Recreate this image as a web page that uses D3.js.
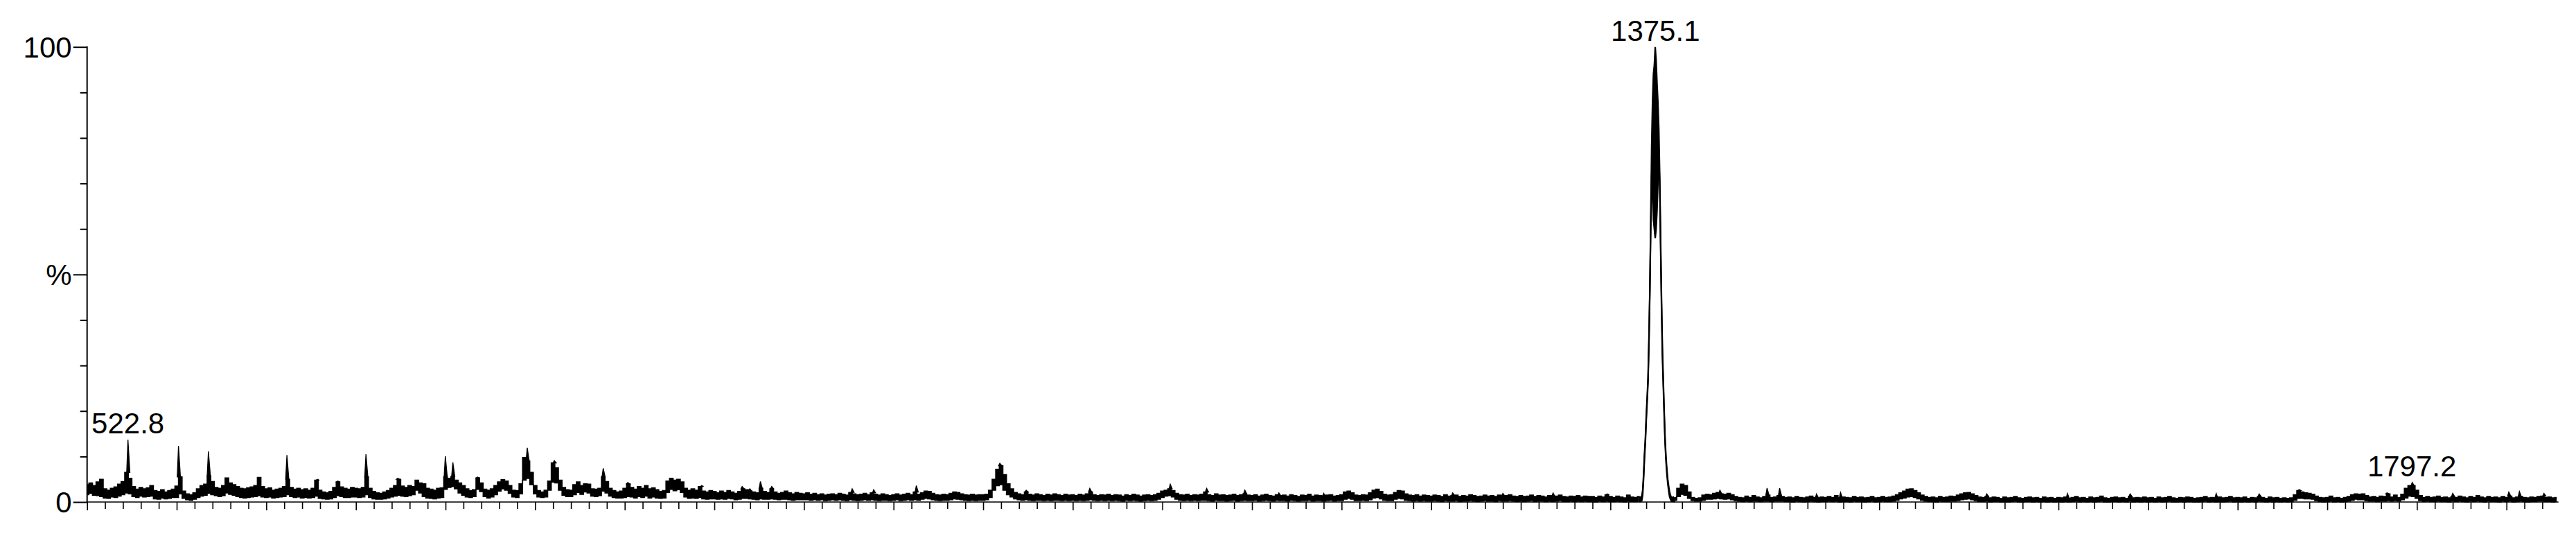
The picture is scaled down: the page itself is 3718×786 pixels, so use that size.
<!DOCTYPE html>
<html>
<head>
<meta charset="utf-8">
<script src="https://cdn.jsdelivr.net/npm/d3@7"></script>
<style>
html,body{margin:0;padding:0;background:#fff;}
text{font-family:"Liberation Sans",Arial,sans-serif;fill:#000;}
</style>
</head>
<body>
<svg id="chart" width="3718" height="786"></svg>
<script>
// ---------- DATA ----------
// m/z axis
const mzDomain = [500, 1879];
const xTickValues = d3.range(500, 1871, 10);      // minor every 10, major every 50
const yTickValues = [0, 10, 20, 30, 40, 50, 60, 70, 80, 90, 100];
const yTickLabels = {0: "0", 50: "%", 100: "100"};

// noise band of the profile, sampled every 2 m/z from 500: upper and lower edge (% intensity)
const bandStart = 500, bandStep = 2;
const bandTop = [
 3.8,4.2,3.6,4.4,5.0,2.9,2.6,3.0,3.3,3.9,4.5,6.5,5.2,3.4,2.8,3.2,2.9,3.1,3.6,2.5,2.3,2.7,2.2,2.5,2.8,
 3.5,5.5,2.4,1.8,1.6,2.0,2.9,3.6,3.9,5.8,4.5,3.2,3.0,3.6,5.3,4.2,3.8,3.4,3.0,2.9,3.1,3.3,3.6,5.4,3.4,
 2.9,3.1,2.6,2.8,3.0,3.4,5.0,3.2,2.8,3.0,2.7,2.9,2.6,3.0,4.8,2.6,2.2,2.0,2.3,3.2,4.4,3.3,3.0,2.8,3.2,
 3.0,2.9,3.2,5.5,3.0,2.3,2.0,1.9,2.2,2.5,3.0,3.6,5.0,3.5,3.2,3.6,3.4,4.8,4.2,4.0,3.0,2.8,2.6,3.0,3.1,
 5.5,5.2,5.6,4.8,4.2,3.6,2.9,2.5,2.7,5.3,4.2,2.8,2.6,2.9,3.6,4.4,4.9,4.6,3.6,2.6,2.5,4.0,9.8,9.0,6.5,
 3.6,2.5,2.2,2.6,4.6,8.6,7.5,4.8,3.2,2.7,2.6,3.8,4.4,3.6,4.0,3.9,2.9,2.8,3.0,5.5,4.5,3.0,2.5,2.2,2.4,
 3.0,4.0,3.2,2.8,3.4,3.0,3.6,2.9,3.1,2.7,2.3,2.5,4.6,5.2,4.8,5.0,4.4,3.0,2.6,2.9,2.6,3.4,2.4,2.2,2.5,
 2.3,2.0,2.4,2.1,2.5,2.2,1.9,2.3,2.9,2.7,2.4,2.2,2.0,3.0,2.3,2.1,2.9,2.2,1.9,2.1,2.4,2.0,1.8,2.1,1.9,
 1.8,2.0,1.7,1.9,1.6,1.8,1.5,1.7,1.8,1.6,1.9,1.7,1.5,2.1,1.8,1.6,1.7,1.9,1.6,2.0,1.7,1.5,1.8,1.6,1.4,
 1.6,1.8,1.5,1.7,1.9,1.6,2.2,1.7,2.0,2.4,2.3,1.9,1.6,1.5,1.7,1.6,1.9,2.2,2.1,1.8,1.6,1.5,1.7,1.5,1.6,
 1.6,1.7,2.6,5.0,7.2,8.0,6.0,4.0,2.9,2.1,1.8,1.6,2.2,1.7,1.5,1.8,1.6,1.4,1.7,1.5,1.8,1.6,1.4,1.7,1.5,
 1.6,1.4,1.7,1.5,1.8,2.2,1.6,1.4,1.6,1.5,1.7,1.4,1.6,1.5,1.3,1.6,1.4,1.7,1.5,1.3,1.5,1.6,1.4,1.6,1.9,
 2.4,2.6,2.9,2.5,1.9,1.6,1.5,1.7,1.4,1.6,1.5,1.7,2.2,1.6,1.4,1.8,1.5,1.6,1.4,1.5,1.7,1.4,1.6,1.8,1.5,
 1.4,1.6,1.3,1.5,1.7,1.4,1.3,1.6,1.4,1.5,1.3,1.6,1.4,1.2,1.5,1.4,1.7,1.3,1.5,1.4,1.2,1.5,1.6,1.3,1.4,
 1.6,2.2,2.4,2.0,1.5,1.4,1.6,1.5,2.0,2.6,2.8,2.3,1.7,1.5,1.6,2.1,2.5,2.4,1.8,1.5,1.4,1.6,1.3,1.5,1.4,
 1.3,1.5,1.4,1.2,1.6,1.3,1.4,1.5,1.2,1.4,1.3,1.6,1.4,1.2,1.3,1.5,1.3,1.4,1.2,1.5,1.3,1.4,1.6,1.3,1.2,
 1.4,1.2,1.3,1.5,1.2,1.4,1.3,1.1,1.4,1.2,1.3,1.5,1.2,1.1,1.3,1.2,1.4,1.1,1.3,1.2,1.2,1.0,1.3,1.1,1.6,
 1.2,1.0,1.3,1.1,0.9,1.5,1.1,1.0,1.2,null,null,null,null,null,null,null,null,null,1.0,3.0,3.9,3.6,2.2,1.0,0.8,
 0.9,1.5,1.7,1.6,1.9,2.1,1.8,1.7,1.9,1.6,1.2,1.0,0.9,1.3,1.0,1.4,1.1,0.9,1.2,1.5,1.0,1.1,1.4,1.2,1.0,
 1.1,0.9,1.2,1.0,0.9,1.1,1.3,1.0,0.9,1.1,1.0,1.2,1.0,1.4,0.9,1.1,1.0,0.9,1.2,1.0,1.1,0.9,1.0,1.2,0.9,
 1.0,1.2,1.0,1.1,1.3,1.6,2.0,2.4,2.8,2.9,2.5,2.0,1.5,1.2,1.0,1.1,0.9,1.2,1.0,1.1,1.3,1.2,1.5,1.8,2.0,
 2.1,1.8,1.4,1.1,1.0,1.2,0.9,1.1,1.0,0.8,1.1,0.9,1.0,1.2,0.9,0.8,1.0,1.1,0.9,1.0,0.8,1.1,0.9,1.0,0.8,
 1.0,0.9,1.1,0.8,1.0,1.2,0.9,1.0,0.8,1.1,0.9,1.0,1.3,0.9,0.8,1.0,1.1,0.9,1.0,0.8,1.2,0.9,1.0,0.9,1.1,
 0.9,1.0,0.8,1.1,0.9,1.0,1.2,0.9,0.8,1.0,0.9,1.1,1.0,0.8,0.9,1.0,1.2,0.9,1.0,0.8,1.1,0.9,1.0,1.2,0.9,
 1.0,0.9,1.1,0.8,1.0,0.9,1.2,1.0,0.8,1.1,0.9,1.0,0.8,0.9,0.8,0.9,1.6,2.5,2.2,2.0,1.9,1.7,1.3,1.0,0.9,
 1.0,1.3,0.9,1.0,0.8,1.0,1.2,1.6,1.8,1.7,1.8,1.4,1.1,1.2,1.0,1.3,1.2,1.8,1.1,1.5,1.0,1.7,3.0,3.6,3.6,
 2.6,1.4,1.0,1.2,1.0,1.1,1.3,1.0,1.1,0.9,1.2,1.0,1.3,1.1,0.9,1.2,1.0,1.4,1.1,0.9,1.2,1.0,1.1,0.9,1.2,
 1.0,1.3,0.9,1.1,1.2,1.0,0.9,1.1,1.0,1.2,1.3,1.0,1.1,0.9,1.0
];
const bandBottom = [
 1.6,1.9,1.5,1.4,1.2,0.9,0.8,1.1,1.0,1.3,1.6,2.0,1.8,1.2,1.0,1.3,1.1,1.2,1.3,0.7,0.6,0.9,0.7,0.8,1.0,
 1.0,1.8,0.8,0.5,0.4,0.6,1.0,1.3,1.5,1.9,1.6,1.4,1.2,1.4,2.0,1.7,1.5,1.2,1.0,0.9,1.0,1.1,1.2,1.4,1.1,
 1.0,1.1,0.9,1.0,1.1,1.2,1.6,1.2,1.0,1.1,0.9,1.0,0.9,1.0,1.3,0.8,0.7,0.6,0.7,1.0,1.4,1.2,1.0,1.0,1.1,
 1.1,1.0,1.1,1.6,1.0,0.7,0.6,0.6,0.7,0.9,1.1,1.3,1.5,1.3,1.2,1.4,1.6,2.6,2.0,1.2,0.9,0.8,0.7,0.9,1.0,
 2.8,3.2,3.4,2.9,2.0,1.5,1.1,1.0,1.2,2.8,2.3,1.2,0.9,1.1,1.6,2.4,2.9,2.6,1.9,1.1,1.0,1.8,4.8,5.2,3.8,
 1.8,1.1,1.0,1.1,2.6,4.4,4.2,2.6,1.5,1.2,1.2,1.6,2.1,1.7,2.2,2.0,1.3,1.2,1.4,2.4,2.0,1.3,1.0,0.9,0.9,
 1.0,1.2,1.1,0.9,1.2,1.0,1.3,0.9,1.1,0.9,0.8,0.9,2.1,2.8,2.5,2.7,2.1,1.1,0.8,0.9,0.8,1.0,0.7,0.6,0.7,
 0.7,0.6,0.7,0.6,0.8,0.7,0.5,0.6,0.8,0.8,0.7,0.6,0.5,0.7,0.6,0.6,0.7,0.6,0.5,0.6,0.6,0.5,0.4,0.5,0.5,
 0.5,0.5,0.4,0.5,0.4,0.5,0.3,0.4,0.5,0.4,0.5,0.4,0.3,0.5,0.4,0.3,0.4,0.5,0.4,0.5,0.4,0.3,0.4,0.4,0.3,
 0.4,0.5,0.3,0.4,0.5,0.4,0.5,0.4,0.6,0.8,0.7,0.5,0.4,0.3,0.4,0.4,0.5,0.7,0.6,0.5,0.4,0.3,0.4,0.3,0.4,
 0.4,0.5,1.0,2.6,3.6,3.8,2.6,1.6,1.1,0.7,0.5,0.4,0.5,0.4,0.3,0.4,0.4,0.3,0.4,0.3,0.4,0.4,0.3,0.4,0.3,
 0.4,0.3,0.4,0.3,0.4,0.5,0.4,0.3,0.4,0.3,0.4,0.3,0.4,0.3,0.2,0.4,0.3,0.4,0.3,0.2,0.3,0.4,0.3,0.4,0.6,
 1.0,1.3,1.4,1.1,0.6,0.4,0.3,0.4,0.3,0.4,0.3,0.4,0.4,0.3,0.2,0.4,0.3,0.3,0.2,0.3,0.4,0.2,0.3,0.4,0.3,
 0.3,0.4,0.2,0.3,0.4,0.3,0.2,0.4,0.3,0.3,0.2,0.4,0.3,0.2,0.3,0.3,0.4,0.2,0.3,0.3,0.2,0.3,0.4,0.2,0.3,
 0.3,0.6,0.8,0.6,0.3,0.3,0.4,0.3,0.5,0.9,1.0,0.7,0.4,0.3,0.3,0.6,0.8,0.7,0.4,0.3,0.2,0.3,0.2,0.3,0.2,
 0.2,0.3,0.2,0.1,0.3,0.2,0.2,0.3,0.1,0.2,0.2,0.3,0.2,0.1,0.2,0.3,0.2,0.2,0.1,0.3,0.2,0.2,0.3,0.2,0.1,
 0.2,0.1,0.2,0.3,0.1,0.2,0.2,0.1,0.2,0.1,0.2,0.3,0.1,0.1,0.2,0.1,0.2,0.1,0.2,0.1,0.1,0.0,0.2,0.1,0.2,
 0.1,0.1,0.2,0.1,0.0,0.2,0.1,0.1,0.2,null,null,null,null,null,null,null,null,null,0.4,1.2,1.7,1.5,0.8,0.3,0.2,
 0.2,0.4,0.6,0.6,0.7,0.8,0.7,0.6,0.7,0.5,0.3,0.2,0.1,0.2,0.1,0.2,0.2,0.1,0.2,0.2,0.1,0.2,0.2,0.2,0.1,
 0.1,0.0,0.2,0.1,0.0,0.1,0.2,0.1,0.0,0.1,0.1,0.2,0.1,0.2,0.0,0.1,0.1,0.0,0.2,0.1,0.1,0.0,0.1,0.2,0.0,
 0.1,0.2,0.1,0.1,0.2,0.4,0.7,0.9,1.1,1.2,1.0,0.7,0.4,0.2,0.1,0.1,0.0,0.2,0.1,0.1,0.2,0.2,0.3,0.5,0.6,
 0.7,0.5,0.3,0.1,0.1,0.2,0.0,0.1,0.1,0.0,0.1,0.0,0.1,0.2,0.0,0.0,0.1,0.1,0.0,0.1,0.0,0.1,0.0,0.1,0.0,
 0.1,0.0,0.1,0.0,0.1,0.2,0.0,0.1,0.0,0.1,0.0,0.1,0.2,0.0,0.0,0.1,0.1,0.0,0.1,0.0,0.2,0.0,0.1,0.0,0.1,
 0.0,0.1,0.0,0.1,0.0,0.1,0.2,0.0,0.0,0.1,0.0,0.1,0.1,0.0,0.0,0.1,0.2,0.0,0.1,0.0,0.1,0.0,0.1,0.2,0.0,
 0.1,0.0,0.1,0.0,0.1,0.0,0.2,0.1,0.0,0.1,0.0,0.1,0.0,0.1,0.0,0.1,0.4,0.8,0.8,0.7,0.7,0.6,0.3,0.1,0.0,
 0.1,0.2,0.0,0.1,0.0,0.1,0.2,0.4,0.6,0.5,0.5,0.3,0.2,0.2,0.1,0.2,0.2,0.3,0.2,0.3,0.2,0.5,0.9,1.3,1.2,
 0.8,0.3,0.1,0.2,0.1,0.1,0.2,0.1,0.1,0.0,0.2,0.1,0.2,0.1,0.0,0.2,0.1,0.2,0.1,0.0,0.2,0.1,0.1,0.0,0.2,
 0.1,0.2,0.0,0.1,0.2,0.1,0.0,0.1,0.1,0.2,0.2,0.1,0.1,0.0,0.1
];

// base peak region profile, every 0.5 m/z from 1366.0 to 1386.0
const mainPeakStart = 1366, mainPeakStep = 0.5;
const mainPeakTop = [1.2,1.0,1.1,1.3,2.6,6.0,10.5,14.0,19.0,23.0,27.5,36,47,62,78,88,94,96,100,97,92,88,82,72,58,45,34,27,20,14,10,7.2,5.0,3.5,2.2,1.5,1.0,0.9,1.1,0.8,1.0];
const mainPeakBottom = [0.2,0.1,0.2,0.3,1.5,5.0,9.5,13,18,22,26.5,35,46,60,72,68,62,60,58,60,64,70,76,70,56,43,32,25.5,19,13,9,6.2,4.0,2.5,1.2,0.6,0.2,0.1,0.2,0.1,0.4];

// narrow spikes rising above the noise band
const spikeMz  = [522.8,551.0,567.7,577.8,596.4,611.5,628.5,639.9,655.6,673.3,699.9,704.1,717.9,745.6,760.7,788.0,801.7,842.9,865.5,869.8,875.7,882.0,926.9,938.9,962.7,1009.3,1024.0,1059.5,1104.4,1124.7,1146.0,1165.0,1190.0,1262.0,1290.0,1318.0,1348.2,1411.1,1437.4,1444.4,1465.0,1478.4,1560.0,1605.0,1640.0,1688.0,1712.0,1734.3,1783.3,1797.4,1820.0,1851.3,1857.2,1870.9];
const spikeTop = [13.7,12.3,11.1,5.3,5.4,10.3,5.0,4.6,10.5,5.2,10.1,8.7,5.5,11.9,9.1,7.4,4.3,3.6,3.4,2.9,4.5,3.4,2.9,2.7,3.6,8.5,2.6,3.0,3.9,3.0,2.6,2.0,1.9,2.0,1.9,2.0,1.8,2.6,3.05,3.05,1.8,2.1,1.8,1.9,1.8,1.9,1.8,2.74,2.0,4.3,1.9,2.2,2.3,1.9];

// peak annotations
const labelMz   = [522.8, 1375.1, 1797.2];
const labelTop  = [13.7, 100, 4.3];
const labelText = ["522.8", "1375.1", "1797.2"];

// ---------- CHART ----------
const svg = d3.select("#chart");
const x = d3.scaleLinear().domain(mzDomain).range([125.7, 3692.7]);
const y = d3.scaleLinear().domain([0, 100]).range([724, 67.7]);

const band = bandTop.map((t, i) => ({mz: bandStart + i * bandStep, hi: t, lo: bandBottom[i]}));
const peak = mainPeakTop.map((t, i) => ({mz: mainPeakStart + i * mainPeakStep, hi: t, lo: mainPeakBottom[i]}));

function drawTrace(data, curve, sw) {
  const area = d3.area().defined(d => d.hi !== null).curve(curve)
    .x(d => x(d.mz)).y0(d => y(d.lo)).y1(d => y(d.hi));
  const lineHi = d3.line().defined(d => d.hi !== null).curve(curve).x(d => x(d.mz)).y(d => y(d.hi));
  const lineLo = d3.line().defined(d => d.hi !== null).curve(curve).x(d => x(d.mz)).y(d => y(d.lo));
  g.append("path").datum(data).attr("d", area).attr("fill", "#000");
  g.append("path").datum(data).attr("d", lineHi).attr("fill", "none").attr("stroke", "#000").attr("stroke-width", sw);
  g.append("path").datum(data).attr("d", lineLo).attr("fill", "none").attr("stroke", "#000").attr("stroke-width", sw);
}
const g = svg.append("g");
drawTrace(band, d3.curveStep, 1.6);
drawTrace(peak, d3.curveLinear, 2.2);

// spikes
spikeMz.forEach((m, i) => {
  const bi = Math.round((m - bandStart) / bandStep);
  const base = bandTop[bi] == null ? 1 : bandTop[bi];
  if (spikeTop[i] <= base) return;
  const px = x(m), pt = y(spikeTop[i]), pb = y(base);
  g.append("path")
    .attr("d", `M${px - 1.8},${pb}L${px},${pt}L${px + 2.8},${pb}Z`)
    .attr("fill", "#000").attr("stroke", "#000").attr("stroke-width", 1.3).attr("stroke-linejoin", "miter");
});

// x axis
const gx = svg.append("g").attr("transform", `translate(0,${y(0)})`)
  .call(d3.axisBottom(x).tickValues(xTickValues).tickFormat("").tickSize(10).tickSizeOuter(0));
gx.select(".domain").remove();
gx.selectAll(".tick line").attr("y2", d => d % 50 === 0 ? 12 : 10).attr("stroke", "#000").attr("stroke-width", 1.6);
svg.append("line").attr("x1", x.range()[0]).attr("x2", x.range()[1])
  .attr("y1", y(0)).attr("y2", y(0)).attr("stroke", "#000").attr("stroke-width", 1.6);

// y axis
const gy = svg.append("g").attr("transform", `translate(${x.range()[0]},0)`)
  .call(d3.axisLeft(y).tickValues(yTickValues).tickFormat("").tickSize(10).tickSizeOuter(0));
gy.select(".domain").remove();
gy.selectAll(".tick line").attr("x2", d => (d in yTickLabels) ? -20 : -10).attr("stroke", "#000").attr("stroke-width", 2);
svg.append("line").attr("x1", x.range()[0]).attr("x2", x.range()[0])
  .attr("y1", y(0) + 1).attr("y2", y(100) - 1).attr("stroke", "#000").attr("stroke-width", 2);
svg.append("g").selectAll("text").data(yTickValues.filter(v => v in yTickLabels)).join("text")
  .attr("x", x.range()[0] - 22).attr("y", d => y(d) + 15)
  .attr("text-anchor", "end").attr("font-size", 42).text(d => yTickLabels[d]);

// peak labels
svg.append("g").selectAll("text").data(labelMz).join("text")
  .attr("x", d => x(d)).attr("y", (d, i) => y(labelTop[i]) - 9)
  .attr("text-anchor", "middle").attr("font-size", 42).text((d, i) => labelText[i]);
</script>
</body>
</html>
